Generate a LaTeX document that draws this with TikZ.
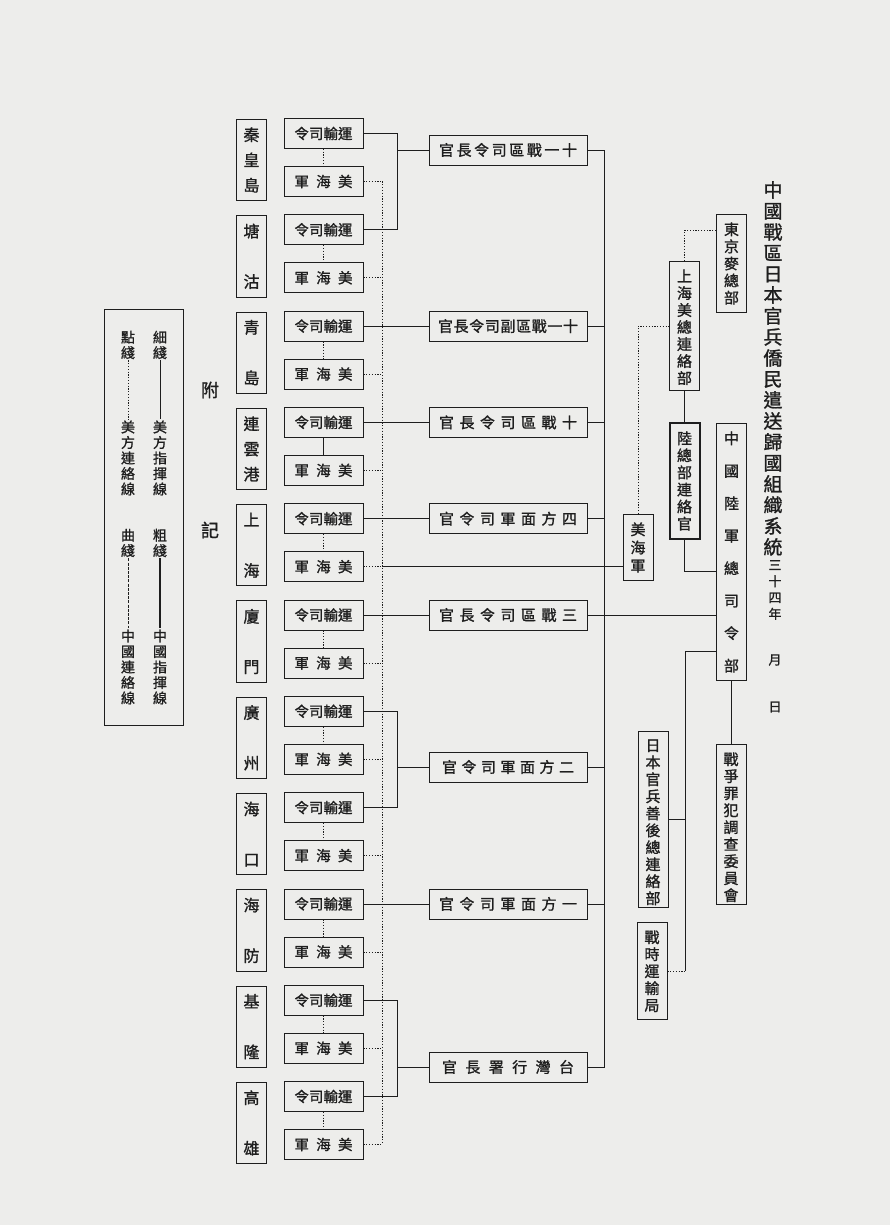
\documentclass[tikz,border=0pt]{standalone}
\usepackage{fontspec}
\setmainfont{Noto Sans CJK TC}[FakeBold=1.2]
\definecolor{paper}{RGB}{237,237,235}
\definecolor{ink}{RGB}{30,30,30}
% vertical text: #1 height, characters separated by \vv
\newcommand\vv{\par\vfill}
\newcommand\vtxt[2]{\parbox[c][#1][s]{1.1em}{\centering #2}}
% horizontal text spread over width #1
\newcommand\htxt[2]{\makebox[#1][s]{#2}}
\tikzset{
  thinline/.style={draw=ink, line width=0.8pt},
  dotline/.style={draw=ink, line width=0.8pt, dash pattern=on 1.2pt off 1.6pt},
  curveline/.style={draw=ink, line width=0.5pt, dash pattern=on 3pt off 1.2pt},
  thickline/.style={draw=ink, line width=2.4pt},
  vbox/.style={draw=ink, line width=0.8pt, text=ink, inner xsep=0pt, inner ysep=8pt, minimum width=30pt, font=\fontsize{15}{17}\selectfont},
  hbox/.style={draw=ink, line width=0.8pt, text=ink, inner sep=0pt, minimum height=30pt},
  citybox/.style={vbox, minimum height=80pt, font=\fontsize{16}{18}\selectfont},
  trnbox/.style={hbox, minimum width=79pt, font=\fontsize{14.5}{16}\selectfont},
  cmdbox/.style={hbox, minimum width=158pt, font=\fontsize{15}{17}\selectfont},
  lgtext/.style={align=center, text=ink, inner sep=1pt, font=\fontsize{14}{15.5}\selectfont},
}
\begin{document}
\begin{tikzpicture}[x=1pt,y=-1pt]
  % --- Page ---
  \fill[paper] (0,0) rectangle (890,1225);
  \useasboundingbox (0,0) rectangle (890,1225);
  \coordinate (dline) at (382,0);
  \coordinate (brk) at (397,0);
  \coordinate (cmdcol) at (508,0);
  \coordinate (spine) at (604,0);

  % --- Left column: ports, transport offices, US Navy units ---
  \foreach \i/\port/\lk in {0/{秦\vv 皇\vv 島}/dotline, 1/{塘\vv 沽}/dotline,
      2/{青\vv 島}/dotline, 3/{連\vv 雲\vv 港}/thinline, 4/{上\vv 海}/dotline,
      5/{廈\vv 門}/dotline, 6/{廣\vv 州}/dotline, 7/{海\vv 口}/dotline,
      8/{海\vv 防}/dotline, 9/{基\vv 隆}/dotline, 10/{高\vv 雄}/dotline}{
    \pgfmathsetmacro{\T}{120+96.3*\i}
    \node[citybox] (port\i) at (251.5,\T+40) {\vtxt{64pt}{\port}};
    \node[trnbox] (trn\i) at (323.5,\T+13.5) {令司輸運};
    \node[trnbox] (nav\i) at (323.5,\T+61.5) {\htxt{58pt}{軍\hfill 海\hfill 美}};
    \draw[\lk] (trn\i) -- (nav\i);
    \draw[dotline] (nav\i.east) -- (nav\i.east -| dline);
  }
  \draw[dotline] (nav0.east -| dline) -- (nav10.east -| dline);

  % --- Middle column: commanders ---
  \node[cmdbox] (c11) at (508,150) {\htxt{138pt}{官\hfill 長\hfill 令\hfill 司\hfill 區\hfill 戰\hfill 一\hfill 十}};
  \node[cmdbox] (c11d) at (trn2 -| cmdcol) {\htxt{140pt}{官\hfill 長\hfill 令\hfill 司\hfill 副\hfill 區\hfill 戰\hfill 一\hfill 十}};
  \node[cmdbox] (c10) at (trn3 -| cmdcol) {\htxt{138pt}{官\hfill 長\hfill 令\hfill 司\hfill 區\hfill 戰\hfill 十}};
  \node[cmdbox] (c4) at (trn4 -| cmdcol) {\htxt{138pt}{官\hfill 令\hfill 司\hfill 軍\hfill 面\hfill 方\hfill 四}};
  \node[cmdbox] (c3) at (trn5 -| cmdcol) {\htxt{138pt}{官\hfill 長\hfill 令\hfill 司\hfill 區\hfill 戰\hfill 三}};
  \node[cmdbox] (c2) at (508,767) {\htxt{132pt}{官\hfill 令\hfill 司\hfill 軍\hfill 面\hfill 方\hfill 二}};
  \node[cmdbox] (c1) at (trn8 -| cmdcol) {\htxt{138pt}{官\hfill 令\hfill 司\hfill 軍\hfill 面\hfill 方\hfill 一}};
  \node[cmdbox] (ctw) at (508,1067) {\htxt{132pt}{官\hfill 長\hfill 署\hfill 行\hfill 灣\hfill 台}};

  % brackets and direct lines
  \draw[thinline] (trn0.east) -| (brk |- trn1.east) -- (trn1.east);
  \draw[thinline] (c11.west) -- (c11.west -| brk);
  \draw[thinline] (trn2) -- (c11d);
  \draw[thinline] (trn3) -- (c10);
  \draw[thinline] (trn4) -- (c4);
  \draw[thinline] (trn5) -- (c3);
  \draw[thinline] (trn6.east) -| (brk |- trn7.east) -- (trn7.east);
  \draw[thinline] (c2.west) -- (c2.west -| brk);
  \draw[thinline] (trn8) -- (c1);
  \draw[thinline] (trn9.east) -| (brk |- trn10.east) -- (trn10.east);
  \draw[thinline] (ctw.west) -- (ctw.west -| brk);

  % spine
  \draw[thinline] (c11.east) -| (spine |- ctw.east) -- (ctw.east);
  \foreach \c in {c11d,c10,c4,c2,c1}
    \draw[thinline] (\c.east) -- (\c.east -| spine);

  % --- Right column: headquarters ---
  \node[vbox] (tokyo) at (731.5,263.5) {\vtxt{81pt}{東\vv 京\vv 麥\vv 總\vv 部}};
  \node[vbox] (shlo) at (684.5,326) {\vtxt{112pt}{上\vv 海\vv 美\vv 總\vv 連\vv 絡\vv 部}};
  \node[vbox, line width=2pt] (lzb) at (684.5,481) {\vtxt{98pt}{陸\vv 總\vv 部\vv 連\vv 絡\vv 官}};
  \node[vbox] (usn) at (638,547.5) {\vtxt{49pt}{美\vv 海\vv 軍}};
  \node[vbox] (cgs) at (731.5,552) {\vtxt{240pt}{中\vv 國\vv 陸\vv 軍\vv 總\vv 司\vv 令\vv 部}};
  \node[vbox] (war) at (731,824.5) {\vtxt{143pt}{戰\vv 爭\vv 罪\vv 犯\vv 調\vv 查\vv 委\vv 員\vv 會}};
  \node[vbox] (jap) at (653,819.5) {\vtxt{159pt}{日\vv 本\vv 官\vv 兵\vv 善\vv 後\vv 總\vv 連\vv 絡\vv 部}};
  \node[vbox] (wtt) at (652,971) {\vtxt{80pt}{戰\vv 時\vv 運\vv 輸\vv 局}};

  \draw[dotline] ([yshift=-16pt]tokyo.north west) -| (shlo.north);
  \draw[thinline] (shlo.south) -- (shlo.south |- lzb.north);
  \draw[thinline] (lzb.south) |- ([yshift=-148pt]cgs.north west);
  \draw[thinline] (c3.east) -- (c3.east -| cgs.west);
  \draw[dotline] (usn.north) |- (shlo.west);
  \draw[thinline] (nav4.east -| dline) -- (nav4.east -| usn.west);
  \draw[thinline] (cgs.south) -- (cgs.south |- war.north);
  \coordinate (jbr) at (685,0);
  \draw[thinline] ([yshift=-228pt]cgs.north west) -| (jbr |- wtt.east);
  \draw[thinline] (jap.east) -- (jap.east -| jbr);
  \draw[dotline] (wtt.east) -- (wtt.east -| jbr);

  % --- Title ---
  \node[text=ink, inner sep=0pt, font=\fontsize{19}{21}\selectfont] (title) at (773,367.5)
    {\vtxt{371pt}{中\vv 國\vv 戰\vv 區\vv 日\vv 本\vv 官\vv 兵\vv 僑\vv 民\vv 遣\vv 送\vv 歸\vv 國\vv 組\vv 織\vv 系\vv 統}};
  \node[lgtext, font=\fontsize{13}{16.3}\selectfont] (year) at (775,590) {三\\十\\四\\年};
  \node[lgtext, font=\fontsize{13}{15}\selectfont] (month) at (775,660) {月};
  \node[lgtext, font=\fontsize{13}{15}\selectfont] (day) at (775,707) {日};

  % --- Legend ---
  \node[draw=ink, line width=0.8pt, minimum width=79pt, minimum height=416pt] (legend) at (143.5,517) {};
  \node[lgtext, font=\fontsize{18}{20}\selectfont] (fu) at (210,390) {附};
  \node[lgtext, font=\fontsize{18}{20}\selectfont] (ji) at (210,530) {記};
  \node[lgtext] (lgA1) at (160,345) {細\\綫};
  \node[lgtext] (lgA2) at (160,458) {美\\方\\指\\揮\\線};
  \node[lgtext] (lgB1) at (160,543) {粗\\綫};
  \node[lgtext] (lgB2) at (160,667) {中\\國\\指\\揮\\線};
  \node[lgtext] (lgC1) at (128,345) {點\\綫};
  \node[lgtext] (lgC2) at (128,458) {美\\方\\連\\絡\\線};
  \node[lgtext] (lgD1) at (128,543) {曲\\綫};
  \node[lgtext] (lgD2) at (128,667) {中\\國\\連\\絡\\線};
  \draw[thinline] (lgA1) -- (lgA2);
  \draw[thickline] (lgB1) -- (lgB2);
  \draw[dotline] (lgC1) -- (lgC2);
  \draw[curveline] (lgD1) -- (lgD2);
\end{tikzpicture}
\end{document}
